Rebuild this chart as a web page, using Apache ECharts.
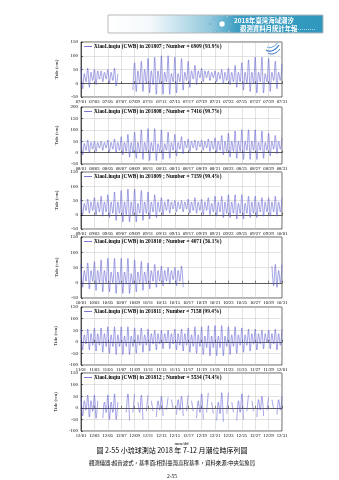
<!DOCTYPE html>
<html>
<head>
<meta charset="utf-8">
<script src="https://cdn.jsdelivr.net/npm/echarts@6/dist/echarts.min.js"></script>
<style>
html,body{margin:0;padding:0;background:#fff;}
#chart{width:339px;height:480px;}
</style>
</head>
<body>
<div id="chart"></div>
<script>
// Xiaoliuqiu tide gauge, July–December 2018, sampled every 6 hours (cm)
const station = 'XiaoLiuqiu (CWB)';
const months = ['201807', '201808', '201809', '201810', '201811', '201812'];
const counts = [6909, 7416, 7159, 4071, 7158, 5534];
const percents = ['93.9', '99.7', '99.4', '56.1', '99.4', '74.4'];
const yMins = [-50, -50, -50, -50, -100, -100];
const yMaxs = [150, 200, 150, 150, 150, 150];

const ticksJul = ['07/01','07/03','07/05','07/07','07/09','07/11','07/13','07/15','07/17','07/19','07/21','07/23','07/25','07/27','07/29','07/31'];
const ticksAug = ['08/01','08/03','08/05','08/07','08/09','08/11','08/13','08/15','08/17','08/19','08/21','08/23','08/25','08/27','08/29','08/31'];
const ticksSep = ['09/01','09/03','09/05','09/07','09/09','09/11','09/13','09/15','09/17','09/19','09/21','09/23','09/25','09/27','09/29','10/01'];
const ticksOct = ['10/01','10/03','10/05','10/07','10/09','10/11','10/13','10/15','10/17','10/19','10/21','10/23','10/25','10/27','10/29','10/31'];
const ticksNov = ['11/01','11/03','11/05','11/07','11/09','11/11','11/13','11/15','11/17','11/19','11/21','11/23','11/25','11/27','11/29','12/01'];
const ticksDec = ['12/01','12/03','12/05','12/07','12/09','12/11','12/13','12/15','12/17','12/19','12/21','12/23','12/25','12/27','12/29','12/31'];

// four readings per day (00, 06, 12, 18 h); null = no record
const tideJul = [
  60,-20,35,5,  55,-15,40,10,  50,-5,45,15,  45,5,40,15,  50,0,40,10,
  55,-10,35,null,  null,null,null,null,  null,null,null,-25,  75,-30,45,0,  80,-30,50,0,
  90,-35,45,-5,  95,-40,45,0,  100,-40,40,5,  100,-40,35,5,  95,-35,35,5,
  90,-25,40,10,  80,-15,45,15,  65,-5,45,20,  55,5,45,20,  45,10,40,20,
  45,5,40,15,  50,0,40,10,  55,-5,40,5,  65,-15,40,5,  75,-25,40,0,
  85,-30,40,0,  95,-35,40,5,  95,-35,35,5,  90,-30,40,10,  80,-20,40,10,
  70
];
const tideAug = [
  60,-10,40,10,  55,0,45,15,  50,5,45,20,  50,10,45,20,  55,5,45,15,
  60,0,45,10,  70,-10,45,5,  80,-20,45,0,  90,-25,45,0,  100,-30,45,5,
  105,-35,45,5,  105,-35,40,5,  100,-30,40,10,  90,-25,45,10,  80,-15,45,15,
  70,-5,50,20,  60,5,50,20,  55,10,50,25,  55,10,50,20,  60,5,50,15,
  65,0,50,10,  75,-10,50,5,  85,-20,50,5,  95,-25,50,5,  100,-30,50,10,
  100,-30,50,10,  100,-30,45,10,  95,-25,45,10,  85,-15,50,15,  75,-5,50,15,
  65
];
const tideSep = [
  55,0,40,15,  55,5,45,15,  60,0,45,10,  65,-5,45,10,  70,-10,45,5,
  80,-20,45,5,  85,-25,45,0,  90,-25,45,0,  90,-25,40,5,  85,-20,45,5,
  80,-15,45,10,  70,-10,45,10,  60,0,45,15,  55,5,45,20,  50,10,45,20,
  50,10,45,20,  55,5,45,15,  60,5,45,15,  55,0,45,15,  60,0,40,10,
  65,-5,45,10,  65,-10,45,5,  70,-10,45,5,  70,-15,40,5,  70,-15,40,5,
  65,-10,45,5,  65,-10,45,10,  60,-5,45,10,  60,-5,45,10,  65,-5,45,10,
  60
];
const tideOct = [
  60,-15,40,5,  65,-20,40,5,  70,-25,40,0,  75,-30,40,0,  80,-30,35,0,
  80,-35,35,-5,  80,-35,35,-5,  80,-35,30,-5,  75,-30,35,0,  70,-25,35,0,
  65,-20,40,5,  60,-15,40,5,  55,-10,40,5,  50,-5,40,10,  50,-10,40,5,
  55,-15,null,null,  null,null,null,null,  null,null,null,null,  null,null,null,null,  null,null,null,null,
  null,null,null,null,  null,null,null,null,  null,null,null,null,  null,null,null,null,  null,null,null,null,
  null,null,null,null,  null,null,null,null,  null,null,null,null,  null,null,55,-10,  60,-15,40,0,
  60
];
const tideNov = [
  55,-35,30,-10,  55,-35,35,-15,  60,-40,35,-15,  60,-45,35,-20,  65,-50,30,-20,
  65,-55,30,-20,  65,-55,25,-20,  65,-55,25,-20,  60,-50,30,-15,  60,-45,30,-15,
  55,-40,35,-10,  50,-35,35,-10,  50,-30,35,-5,  50,-30,35,-10,  55,-35,35,-15,
  55,-40,35,-15,  60,-45,30,-20,  65,-50,30,-20,  65,-55,25,-25,  70,-60,25,-25,
  70,-60,25,-25,  70,-60,25,-20,  65,-55,30,-20,  65,-50,30,-15,  60,-45,30,-15,
  55,-40,35,-10,  55,-35,35,-10,  50,-30,35,-5,  50,-30,35,-10,  55,-35,35,-15,
  55
];
const tideDec = [
  50,-35,30,-10,  55,-40,30,-15,  55,-45,30,null,  null,-45,25,-20,  55,-50,25,-20,
  60,-50,25,null,  null,null,null,-20,  60,-55,null,-20,  60,null,25,-20,  55,-50,null,-15,
  55,null,30,-15,  null,-40,30,-10,  50,-35,null,-10,  45,null,35,-5,  null,-30,35,-10,
  50,-35,null,-15,  55,null,30,-15,  null,-45,30,-20,  60,-50,null,-20,  65,null,25,-25,
  null,-55,25,-25,  65,-60,null,-25,  65,null,25,-20,  null,-55,30,-20,  60,-50,null,-15,
  55,null,30,-15,  null,-40,35,-10,  50,-35,null,-10,  45,null,35,-5,  null,-30,35,-10,
  50
];

const tides = [tideJul, tideAug, tideSep, tideOct, tideNov, tideDec];
const ticks = [ticksJul, ticksAug, ticksSep, ticksOct, ticksNov, ticksDec];
const samplesPerDay = 4;

const lineColor = '#5656cf';
const serif = '"Liberation Serif", "DejaVu Serif", serif';
const cjk = '"Noto Sans CJK TC", "Noto Sans CJK SC", sans-serif';

// panel placement
const plotLeft = 81, plotWidth = 201;
const panelTops = [42, 107, 172, 237, 307, 373];
const panelHeights = [55, 57, 57, 61, 58, 58];

const names = months.map((m, k) => station + ' in ' + m + ' ; Number = ' + counts[k] + ' (' + percents[k] + '%)');

const grids = [], xAxes = [], yAxes = [], series = [], legends = [];
months.forEach((m, k) => {
  grids.push({ left: plotLeft, top: panelTops[k], width: plotWidth, height: panelHeights[k],
    show: true, borderColor: '#000', borderWidth: 0.6, backgroundColor: '#fff' });
  const tk = ticks[k];
  xAxes.push({
    type: 'value', gridIndex: k, min: 0, max: 30, interval: 2,
    axisLine: { show: true, lineStyle: { color: '#000', width: 0.6 } },
    axisTick: { show: true, inside: true, length: 2, lineStyle: { color: '#000', width: 0.5 } },
    splitLine: { show: true, lineStyle: { color: '#c4c4c4', width: 0.5 } },
    axisLabel: { fontSize: 4.6, fontFamily: serif, color: '#000', margin: 2,
      showMinLabel: true, showMaxLabel: true,
      formatter: v => tk[Math.round(v / 2)] || '' },
    name: k === 5 ? 'mm/dd' : '', nameLocation: 'middle', nameGap: 10,
    nameTextStyle: { fontSize: 5, fontFamily: serif, color: '#000' }
  });
  yAxes.push({
    type: 'value', gridIndex: k, min: yMins[k], max: yMaxs[k], interval: 50,
    axisLine: { show: true, lineStyle: { color: '#000', width: 0.6 } },
    axisTick: { show: true, inside: true, length: 2, lineStyle: { color: '#000', width: 0.5 } },
    splitLine: { show: true, lineStyle: { color: '#c4c4c4', width: 0.5 } },
    axisLabel: { fontSize: 5, fontFamily: serif, color: '#000', margin: 3 },
    name: 'Tide (cm)', nameLocation: 'middle', nameRotate: 90, nameGap: 14,
    nameTextStyle: { fontSize: 5, fontFamily: serif, color: '#000' }
  });
  series.push({
    name: names[k], type: 'line', xAxisIndex: k, yAxisIndex: k,
    showSymbol: false, smooth: 0.35, connectNulls: false, animation: false,
    lineStyle: { color: lineColor, width: 0.6, opacity: 0.9 }, itemStyle: { color: lineColor },
    data: tides[k].map((v, i) => [i / samplesPerDay, v === null ? '-' : v])
  });
  legends.push({
    data: [names[k]], left: plotLeft + 3, top: panelTops[k] + 2, padding: 0,
    icon: 'rect', itemWidth: 8, itemHeight: 0.8, itemGap: 0,
    textStyle: { fontSize: 5.4, fontFamily: serif, fontWeight: 'bold', color: '#000', padding: [0, 0, 0, -3] },
    selectedMode: false
  });
});

// header banner and caption
const graphics = [
  { type: 'rect', shape: { x: 108, y: 15, width: 215, height: 18 },
    style: { stroke: '#b9b9b9', lineWidth: 1,
      fill: new echarts.graphic.LinearGradient(0, 0, 1, 0, [
        { offset: 0, color: '#ffffff' }, { offset: 0.2, color: '#f4f9fb' },
        { offset: 0.48, color: '#8fc7dc' }, { offset: 0.6, color: '#3c9ec2' },
        { offset: 1, color: '#2f97bd' }]) } },
  { type: 'circle', shape: { cx: 222, cy: 24, r: 3.2 }, style: { fill: '#ffffff', stroke: '#2f97bd', lineWidth: 0.6 } },
  { type: 'circle', shape: { cx: 213, cy: 19, r: 1 }, style: { fill: '#ffffff', stroke: '#2f7fa8', lineWidth: 0.5 } },
  { type: 'circle', shape: { cx: 227, cy: 16.5, r: 0.9 }, style: { fill: '#ffffff', stroke: '#2f7fa8', lineWidth: 0.5 } },
  { type: 'circle', shape: { cx: 229, cy: 31.5, r: 0.9 }, style: { fill: '#ffffff', stroke: '#2f7fa8', lineWidth: 0.5 } },
  { type: 'circle', shape: { cx: 215, cy: 31.5, r: 0.9 }, style: { fill: '#ffffff', stroke: '#2f7fa8', lineWidth: 0.5 } },
  { type: 'circle', shape: { cx: 210, cy: 24, r: 0.8 }, style: { fill: '#ffffff', stroke: '#2f7fa8', lineWidth: 0.5 } },
  { type: 'circle', shape: { cx: 231, cy: 24, r: 0.8 }, style: { fill: '#ffffff', stroke: '#2f7fa8', lineWidth: 0.5 } },
  { type: 'text', x: 234, y: 17, style: { text: '2018年臺灣海域潮汐', fill: '#ffffff', fontSize: 6.4, fontWeight: 'bold', fontFamily: cjk } },
  { type: 'text', x: 240, y: 25.3, style: { text: '觀測資料月統計年報', fill: '#ffffff', fontSize: 6.4, fontWeight: 'bold', fontFamily: cjk } },
  { type: 'line', shape: { x1: 294, y1: 29.5, x2: 316, y2: 29.5 }, style: { stroke: '#ffffff', lineWidth: 0.6, lineDash: [1, 1] } },
  // small wave emblem in the first panel
  { type: 'bezierCurve', shape: { x1: 266, y1: 50, x2: 279, y2: 45, cpx1: 270, cpy1: 53, cpx2: 276, cpy2: 50 }, style: { stroke: '#3a7fd0', lineWidth: 1.3, fill: null } },
  { type: 'bezierCurve', shape: { x1: 267, y1: 47, x2: 278, y2: 42.5, cpx1: 271, cpy1: 49, cpx2: 275, cpy2: 46 }, style: { stroke: '#5aa0e0', lineWidth: 1, fill: null } },
  { type: 'bezierCurve', shape: { x1: 268, y1: 53, x2: 280, y2: 49, cpx1: 272, cpy1: 55.5, cpx2: 277, cpy2: 53 }, style: { stroke: '#2a62b8', lineWidth: 0.9, fill: null } },
  { type: 'text', x: 172, y: 447, style: { text: '圖 2-55 小琉球測站 2018 年 7-12 月潮位時序列圖', fill: '#000', fontSize: 7, fontFamily: cjk, textAlign: 'center' } },
  { type: 'text', x: 172, y: 460, style: { text: '觀測儀器:超音波式，基準面:相對臺灣高程基準，資料來源:中央氣象局', fill: '#000', fontSize: 5.4, fontFamily: cjk, textAlign: 'center' } },
  { type: 'text', x: 172, y: 474, style: { text: '2-55', fill: '#000', fontSize: 5.5, fontFamily: serif, textAlign: 'center' } }
];

const chart = echarts.init(document.getElementById('chart'), null, { renderer: 'canvas' });
chart.setOption({
  animation: false,
  backgroundColor: '#ffffff',
  grid: grids, xAxis: xAxes, yAxis: yAxes, series: series, legend: legends,
  graphic: graphics
});
</script>
</body>
</html>
